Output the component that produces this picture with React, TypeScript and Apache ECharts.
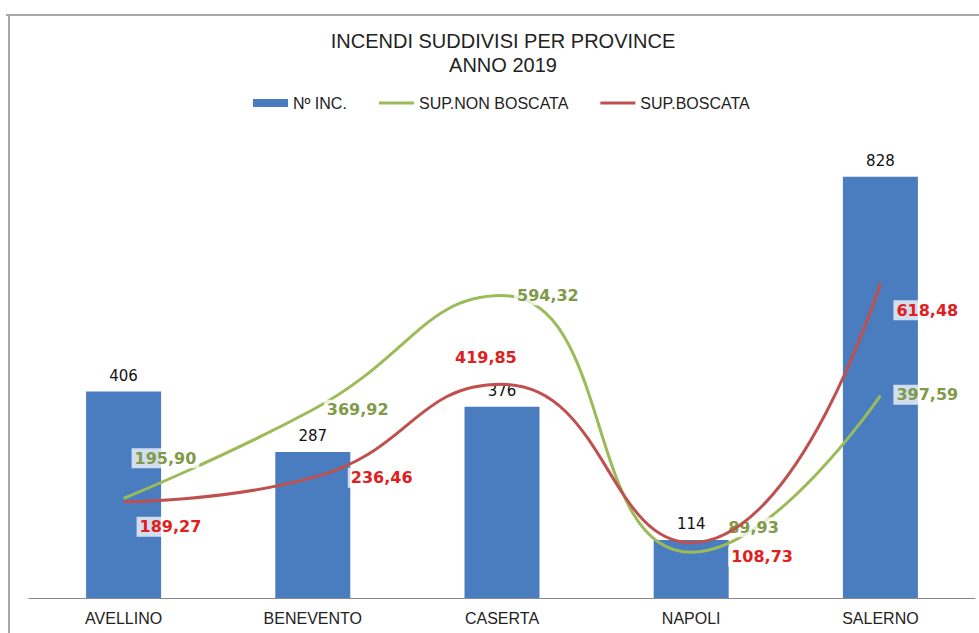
import React, { useEffect, useRef } from "react";
import * as echarts from "echarts";

const titleLines = ["INCENDI SUDDIVISI PER PROVINCE", "ANNO 2019"];
const provinces = ["AVELLINO", "BENEVENTO", "CASERTA", "NAPOLI", "SALERNO"];
const seriesNames = ["Nº INC.", "SUP.NON BOSCATA", "SUP.BOSCATA"];
const numIncendi = [406, 287, 376, 114, 828];
const supNonBoscata = [195.9, 369.92, 594.32, 89.93, 397.59];
const supBoscata = [189.27, 236.46, 419.85, 108.73, 618.48];

// label placement (layout only)
const greenOffsets = [[3, -40], [6, 0], [7, 0], [29, -25], [8, -1]];
const redOffsets = [[8, 25], [30, 0], [-55, -27], [32, 14], [8, 27]];

const fmt = (v: number) => v.toFixed(2).replace(".", ",");

export default function App() {
  const ref = useRef<HTMLDivElement>(null);
  useEffect(() => {
    if (!ref.current) return;
    const chart = echarts.init(ref.current, undefined, { renderer: "svg" });
    const lineLabelBase = {
      show: true,
      position: "right",
      fontFamily: "DejaVu Sans",
      fontWeight: "bold",
      fontSize: 16,
      backgroundColor: "rgba(255,255,255,0.75)",
      padding: [2, 3],
      formatter: (p: any) => fmt(p.value),
    };
    const legendText = { fontFamily: "Liberation Sans", fontSize: 16, color: "#222" };
    chart.setOption({
      animation: false,
      backgroundColor: "#ffffff",
      title: {
        text: titleLines.join("\n"),
        left: 498,
        textAlign: "center",
        top: 24,
        textStyle: {
          fontFamily: "Liberation Sans",
          fontWeight: "normal",
          fontSize: 20,
          lineHeight: 24,
          color: "#222",
        },
      },
      legend: [
        {
          top: 90,
          left: 248,
          itemWidth: 35,
          itemHeight: 8,
          itemGap: 4,
          textStyle: legendText,
          data: [{ name: seriesNames[0], icon: "rect" }],
        },
        {
          top: 90,
          left: 374,
          itemWidth: 35,
          itemHeight: 3,
          itemGap: 32,
          textStyle: legendText,
          data: [
            { name: seriesNames[1], icon: "rect" },
            { name: seriesNames[2], icon: "rect" },
          ],
        },
      ],
      grid: { left: 29, right: 4, top: 140, bottom: 35 },
      xAxis: {
        type: "category",
        data: provinces,
        axisLine: { lineStyle: { color: "#8a8a8a", width: 1 } },
        axisTick: { show: false },
        axisLabel: {
          margin: 12,
          fontFamily: "Liberation Sans",
          fontSize: 16,
          color: "#222",
        },
      },
      yAxis: {
        type: "value",
        min: 0,
        max: 900,
        show: false,
        splitLine: { show: false },
      },
      series: [
        {
          name: seriesNames[0],
          type: "bar",
          data: numIncendi,
          barWidth: 75,
          itemStyle: { color: "#4a7dc0" },
          z: 1,
          label: {
            show: true,
            position: "top",
            distance: 8,
            fontFamily: "DejaVu Sans",
            fontSize: 15,
            color: "#111",
          },
        },
        {
          name: seriesNames[1],
          type: "line",
          smooth: 0.5,
          symbol: "circle",
          symbolSize: 0,
          showSymbol: true,
          z: 3,
          lineStyle: { color: "#9bbb59", width: 3 },
          itemStyle: { color: "#9bbb59" },
          data: supNonBoscata.map((v, i) => ({
            value: v,
            label: { offset: greenOffsets[i] },
          })),
          label: { ...lineLabelBase, color: "#7f9a48" },
        },
        {
          name: seriesNames[2],
          type: "line",
          smooth: 0.5,
          symbol: "circle",
          symbolSize: 0,
          showSymbol: true,
          z: 4,
          lineStyle: { color: "#c0504d", width: 3 },
          itemStyle: { color: "#c0504d" },
          data: supBoscata.map((v, i) => ({
            value: v,
            label: { offset: redOffsets[i] },
          })),
          label: { ...lineLabelBase, color: "#e0201e" },
        },
      ],
      graphic: [
        {
          type: "line",
          shape: { x1: 6, y1: 15, x2: 979, y2: 15 },
          style: { stroke: "#a8a8a8", lineWidth: 2 },
          silent: true,
        },
        {
          type: "line",
          shape: { x1: 9, y1: 15, x2: 9, y2: 633 },
          style: { stroke: "#a8a8a8", lineWidth: 2 },
          silent: true,
        },
      ],
    });
    return () => chart.dispose();
  }, []);
  return (
    <div
      ref={ref}
      style={{ position: "absolute", left: 0, top: 0, width: 979, height: 633 }}
    />
  );
}
